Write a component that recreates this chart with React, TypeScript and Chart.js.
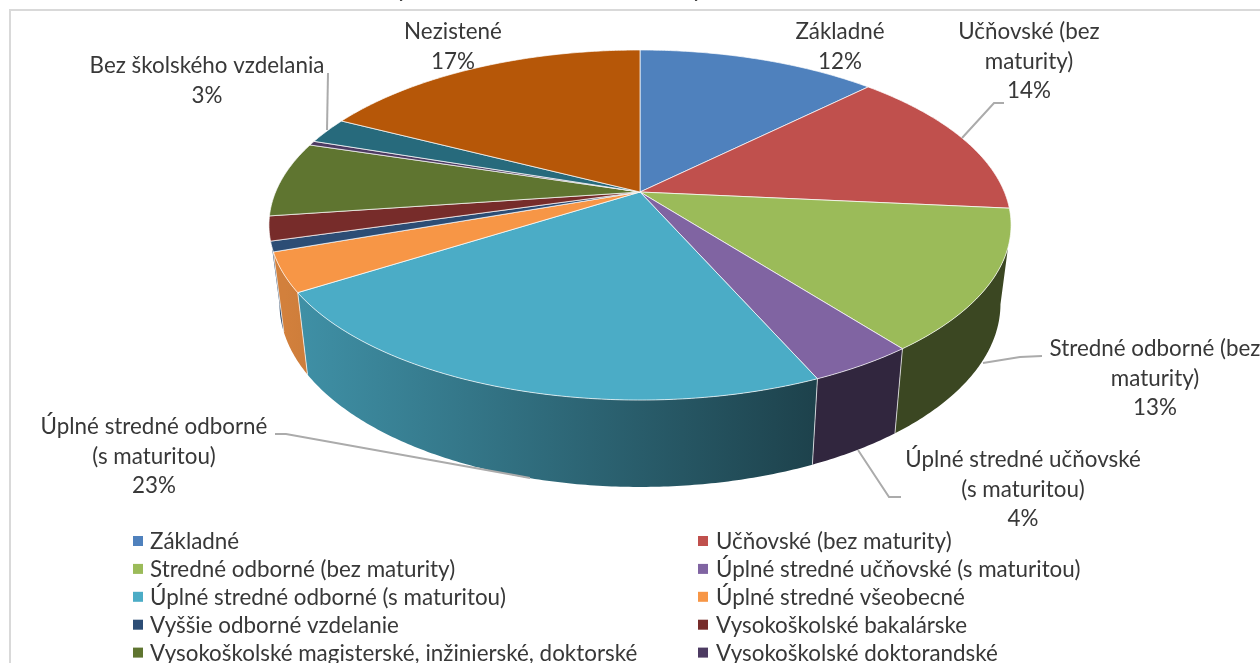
import React, { useEffect, useRef } from "react";
import { Chart, registerables } from "chart.js";

Chart.register(...registerables);

// ---- data ----
const categories = [
  "Základné",
  "Učňovské (bez maturity)",
  "Stredné odborné (bez maturity)",
  "Úplné stredné učňovské (s maturitou)",
  "Úplné stredné odborné (s maturitou)",
  "Úplné stredné všeobecné",
  "Vyššie odborné vzdelanie",
  "Vysokoškolské bakalárske",
  "Vysokoškolské magisterské, inžinierské, doktorské",
  "Vysokoškolské doktorandské",
  "Bez školského vzdelania",
  "Nezistené",
];
const shares = [12.55, 13.95, 13.0, 3.9, 22.6, 3.6, 0.95, 2.25, 6.95, 0.4, 2.4, 17.45];
const colors = [
  "#4F81BD", "#C0504D", "#9BBB59", "#8064A2", "#4BACC6", "#F79646",
  "#2C4D75", "#772C2A", "#5F7530", "#4D3B62", "#276A7C", "#B65708",
];
const legendEntries = categories.slice(0, 10);

// data label text
const dataLabels: { lines: string[]; x: number; y: number }[] = [
  { lines: ["Základné", "12%"], x: 840, y: 32 },
  { lines: ["Učňovské (bez", "maturity)", "14%"], x: 1029, y: 32 },
  { lines: ["Stredné odborné (bez", "maturity)", "13%"], x: 1155, y: 349 },
  { lines: ["Úplné stredné učňovské", "(s maturitou)", "4%"], x: 1023, y: 460 },
  { lines: ["Úplné stredné odborné", "(s maturitou)", "23%"], x: 154, y: 427 },
  { lines: ["Bez školského vzdelania", "3%"], x: 207, y: 66 },
  { lines: ["Nezistené", "17%"], x: 453, y: 32 },
];
const leaderLines: number[][][] = [
  [[962, 138], [994, 103], [1004, 103]],
  [[983, 363], [1020, 357], [1042, 356]],
  [[858, 450], [889, 497], [901, 497]],
  [[275, 434], [286, 434], [514, 475], [530, 478]],
  [[328, 73], [327, 130]],
];
// descenders of the title that the picture's upper edge cuts off
const titleFragments = [
  { text: "y", x: 403 },
  { text: "y", x: 698 },
];

// ---- projection of the disc (perspective view) ----
const CX = 640;
const K = 0.1886;
const TOP = { b: 364.4, a: 168.8, y0: 192 };
const BOTTOM = { b: 354, a: 176.6, y0: 269.3 };
type Plane = typeof TOP;

function project(t: number, p: Plane): [number, number] {
  const u = Math.sin(t);
  const v = Math.cos(t);
  const w = 1 + K * v;
  return [CX + (p.b * u) / w, p.y0 - (p.a * v) / w];
}

function arcPoints(t1: number, t2: number, p: Plane): [number, number][] {
  const n = Math.max(2, Math.ceil(Math.abs(t2 - t1) / 0.01));
  const pts: [number, number][] = [];
  for (let i = 0; i <= n; i++) pts.push(project(t1 + ((t2 - t1) * i) / n, p));
  return pts;
}

function shade(hex: string, f: number): string {
  const n = parseInt(hex.slice(1), 16);
  const r = Math.round(((n >> 16) & 255) * f);
  const g = Math.round(((n >> 8) & 255) * f);
  const b = Math.round((n & 255) * f);
  return `rgb(${r},${g},${b})`;
}

const deg = Math.PI / 180;
const WALL_TOP = [108 * deg, 252 * deg];
const WALL_BOTTOM = [101 * deg, 259 * deg];
const EDGE = "rgba(255,255,255,0.7)";

const pie3d = {
  id: "pie3d",
  beforeDatasetsDraw(chart: any) {
    const ctx: CanvasRenderingContext2D = chart.ctx;
    const arcs = chart.getDatasetMeta(0).data;
    const spans = arcs.map((a: any) => [a.startAngle + Math.PI / 2, a.endAngle + Math.PI / 2]);

    // side wall
    spans.forEach(([t1, t2]: number[], i: number) => {
      const a = Math.max(t1, WALL_TOP[0]);
      const b = Math.min(t2, WALL_TOP[1]);
      if (b <= a) return;
      const ba = t1 < WALL_TOP[0] ? WALL_BOTTOM[0] : t1;
      const bb = t2 > WALL_TOP[1] ? WALL_BOTTOM[1] : t2;
      const pts = [...arcPoints(a, b, TOP), ...arcPoints(bb, ba, BOTTOM)];
      const g = ctx.createLinearGradient(285, 0, 820, 0);
      g.addColorStop(0, shade(colors[i], 0.85));
      g.addColorStop(1, shade(colors[i], 0.38));
      ctx.beginPath();
      pts.forEach(([x, y], j) => (j ? ctx.lineTo(x, y) : ctx.moveTo(x, y)));
      ctx.closePath();
      ctx.fillStyle = g;
      ctx.fill();
    });
    // seams between the wall's slices
    ctx.strokeStyle = EDGE;
    ctx.lineWidth = 1;
    spans.forEach(([, t2]: number[]) => {
      if (t2 <= WALL_TOP[0] || t2 >= WALL_TOP[1]) return;
      const p = project(t2, TOP);
      const q = project(t2, BOTTOM);
      ctx.beginPath();
      ctx.moveTo(p[0], p[1]);
      ctx.lineTo(q[0], q[1]);
      ctx.stroke();
    });

    // top face
    spans.forEach(([t1, t2]: number[], i: number) => {
      ctx.beginPath();
      ctx.moveTo(CX, TOP.y0);
      arcPoints(t1, t2, TOP).forEach(([x, y]) => ctx.lineTo(x, y));
      ctx.closePath();
      ctx.fillStyle = colors[i];
      ctx.fill();
      ctx.strokeStyle = EDGE;
      ctx.lineWidth = 1;
      ctx.stroke();
    });
    return false;
  },
  afterDraw(chart: any) {
    const ctx: CanvasRenderingContext2D = chart.ctx;
    ctx.save();

    // frame
    ctx.fillStyle = "#D9D9D9";
    ctx.fillRect(9, 9, 1251, 2);
    ctx.fillRect(9, 9, 2, 654);

    // leaders
    ctx.strokeStyle = "#ABABAB";
    ctx.lineWidth = 2;
    leaderLines.forEach((line) => {
      ctx.beginPath();
      line.forEach(([x, y], j) => (j ? ctx.lineTo(x, y) : ctx.moveTo(x, y)));
      ctx.stroke();
    });

    ctx.fillStyle = "#383838";
    ctx.textAlign = "center";

    // title, almost entirely above the picture
    ctx.font = "24px Lato";
    ctx.textBaseline = "alphabetic";
    titleFragments.forEach((f) => ctx.fillText(f.text, f.x, -3));

    // data labels
    ctx.font = "22.4px Lato";
    ctx.textBaseline = "middle";
    dataLabels.forEach((l) => {
      l.lines.forEach((s, j) => ctx.fillText(s, l.x, l.y + j * 29.5));
    });

    // legend (two columns, cut by the picture's lower edge)
    ctx.textAlign = "left";
    legendEntries.forEach((name, i) => {
      const col = i % 2;
      const row = Math.floor(i / 2);
      const y = 542 + row * 27.9;
      const sx = col ? 698 : 133;
      ctx.fillStyle = colors[i];
      ctx.fillRect(sx, y - 6, 10, 10);
      ctx.fillStyle = "#383838";
      ctx.fillText(name, col ? 716 : 150, y);
    });
    ctx.restore();
  },
};

export default function App() {
  const ref = useRef<HTMLCanvasElement | null>(null);
  useEffect(() => {
    const chart = new Chart(ref.current as HTMLCanvasElement, {
      type: "pie",
      data: {
        labels: categories,
        datasets: [{ data: shares, backgroundColor: colors, borderWidth: 0 }],
      },
      options: {
        responsive: false,
        animation: false,
        plugins: { legend: { display: false }, tooltip: { enabled: false } },
      },
      plugins: [pie3d],
    } as any);
    return () => chart.destroy();
  }, []);
  return (
    <div style={{ position: "fixed", left: 0, top: 0, width: 1260, height: 663, background: "#fff", overflow: "hidden" }}>
      <canvas ref={ref} width={1260} height={663} style={{ display: "block" }} />
    </div>
  );
}
